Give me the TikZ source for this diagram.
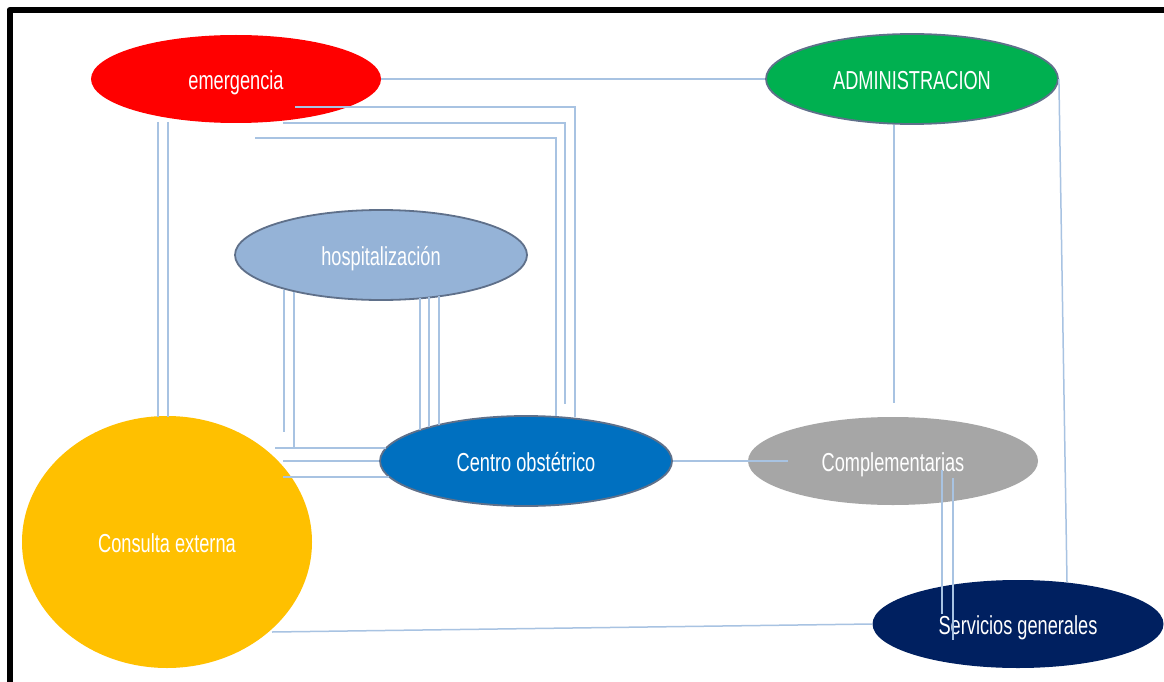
\documentclass[tikz,border=0pt]{standalone}
\usepackage{fontspec}
\setmainfont{Liberation Sans}[FakeStretch=0.7]
\usetikzlibrary{shapes.geometric}
\definecolor{cred}{HTML}{FF0000}
\definecolor{cgreen}{HTML}{00B050}
\definecolor{chosp}{HTML}{95B3D7}
\definecolor{ccentro}{HTML}{0070C0}
\definecolor{ccompl}{HTML}{A6A6A6}
\definecolor{cserv}{HTML}{002060}
\definecolor{ccons}{HTML}{FFC000}
\definecolor{cedge}{RGB}{95,112,138}
\definecolor{clink}{RGB}{168,195,226}
\newcommand\blbl[1]{\raisebox{-10.5pt}[0pt][0pt]{#1}}
\tikzset{
  blob/.style={ellipse, inner sep=0pt, text=white, font=\fontsize{26}{30}\selectfont},
  rimmed/.style={draw=cedge, line width=1.8pt},
  link/.style={draw=clink, line width=1.5pt},
  frame/.style={line width=6pt, black, line cap=round, line join=round}
}
\begin{document}
\begin{tikzpicture}[x=1pt,y=-1pt]
\useasboundingbox (0,0) rectangle (1164,682);
\fill[white] (0,0) rectangle (1164,682);
\draw[frame] (9.5,690) -- (9.5,10) -- (1170,10);

% nodes
\node[blob, fill=cred, minimum width=290pt, minimum height=88pt] (emer) at (236,79) {\blbl{emergencia}};
\node[blob, rimmed, fill=cgreen, minimum width=292pt, minimum height=90pt] (admin) at (912,79) {\blbl{ADMINISTRACION}};
\node[blob, rimmed, fill=chosp, minimum width=292pt, minimum height=90pt] (hosp) at (381,255) {\blbl{hospitalización}};
\node[blob, rimmed, fill=ccentro, minimum width=292pt, minimum height=90pt] (centro) at (526,461) {\blbl{Centro obstétrico}};
\node[blob, fill=ccompl, minimum width=290pt, minimum height=88pt] (compl) at (893,461) {\blbl{Complementarias}};
\node[blob, fill=cserv, minimum width=291pt, minimum height=88pt] (serv) at (1018,624) {\blbl{Servicios generales}};
\node[blob, fill=ccons, minimum width=290pt, minimum height=252pt] (cons) at (167,542) {\blbl{Consulta externa}};

% free ends
\coordinate (e1) at (295,107);
\coordinate (e2) at (283,123);
\coordinate (e3) at (255,138);
\coordinate (e2end) at (565,404);
\coordinate (h5) at (275,448);
\coordinate (c1) at (283,461);
\coordinate (c2) at (283,477);
\coordinate (k1) at (788,461);
\coordinate (a1) at (894,403);

% connectors
\draw[link] (emer.east) -- (admin.west);
\draw[link] (e1) -| (575,417);
\draw[link] (e2) -| (e2end);
\draw[link] (e3) -| (556,416);
\draw[link] (158,122) -- (158,417);
\draw[link] (168,122) -- (168,417);
\draw[link] (284,290) -- (284,432);
\draw[link] (294,292) -- (294,448);
\draw[link] (h5) -- (386,448);
\draw[link] (420,298) -- (420,430);
\draw[link] (429,297) -- (429,427);
\draw[link] (439,296) -- (439,425);
\draw[link] (c1) -- (centro.west);
\draw[link] (c2) -- (389,477);
\draw[link] (centro.east) -- (k1);
\draw[link] (a1 |- admin.south) -- (a1);
\draw[link] (admin.east) -- (1067,582);
\draw[link] (942,470) -- (942,614);
\draw[link] (953,478) -- (953,640);
\draw[link] (272,632) -- (serv.west);
\end{tikzpicture}
\end{document}
